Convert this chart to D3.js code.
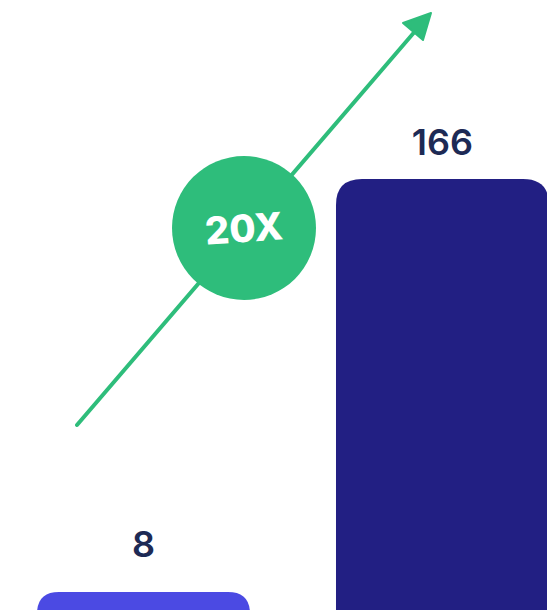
<!DOCTYPE html>
<meta charset="utf-8">
<html>
  <head>
  <title>20X</title>
    <style>
      body { margin: 0; background: #fff; }
      svg { display: block; }
      .label { font-family: Inter, sans-serif; font-weight: 600; fill: #1d2a55; }
    </style>
  </head>
  <body>
<div id="chart"></div>
<script src="https://cdn.jsdelivr.net/npm/d3@7"></script>
<script>

var categories = ["before", "after"]
var values = [8, 166]
var multiplier = "20X"

var colors = ["#4b4ae3", "#221f83"]
var green = "#2ebd7b"

var width = 547;
var height = 610;

var svg = d3.select("#chart")
  .append("svg")
    .attr("width", width)
    .attr("height", height);

var x = d3.scaleBand()
  .domain(categories)
  .range([37, 549])
  .paddingInner(0.2876)
  .paddingOuter(0);

var y = d3.scaleLinear()
  .domain([0, 166])
  .range([613, 179]);

// rounded top bars, bottom runs off the page
function barPath(d, i) {
  var r = i == 0 ? 22 : 26;
  var x0 = x(categories[i]), x1 = x0 + x.bandwidth();
  var top = y(d), bot = height + 40;
  return "M" + x0 + "," + bot +
    "V" + (top + r) +
    "Q" + x0 + "," + top + " " + (x0 + r) + "," + top +
    "H" + (x1 - r) +
    "Q" + x1 + "," + top + " " + x1 + "," + (top + r) +
    "V" + bot + "Z";
}

svg.selectAll(".bar")
  .data(values).enter()
  .append("path")
    .attr("class", "bar")
    .attr("d", barPath)
    .style("fill", function(d, i) { return colors[i]; });

var labelGap = [35, 24];
svg.selectAll(".label")
  .data(values).enter()
  .append("text")
    .attr("class", "label")
    .attr("x", function(d, i) { return x(categories[i]) + x.bandwidth() / 2; })
    .attr("y", function(d, i) { return y(d) - labelGap[i]; })
    .attr("text-anchor", "middle")
    .style("font-size", "36px")
    .text(function(d) { return d; });

// arrow
svg.append("line")
  .attr("x1", 77).attr("y1", 425)
  .attr("x2", 417).attr("y2", 29)
  .style("stroke", green)
  .style("stroke-width", 4)
  .style("stroke-linecap", "round");

svg.append("path")
  .attr("d", "M431,13 L403,23 L423,40 Z")
  .style("fill", green)
  .style("stroke", green)
  .style("stroke-width", 2)
  .style("stroke-linejoin", "round");

svg.append("circle")
  .attr("cx", 244).attr("cy", 228)
  .attr("r", 72)
  .style("fill", green);

svg.append("text")
  .attr("x", 244).attr("y", 242)
  .attr("text-anchor", "middle")
  .attr("transform", "rotate(-4,244,228)")
  .style("font-family", "Inter, sans-serif")
  .style("font-weight", 800)
  .style("font-size", "38px")
  .style("fill", "#fff")
  .text(multiplier);

</script>
  </body>
</html>
